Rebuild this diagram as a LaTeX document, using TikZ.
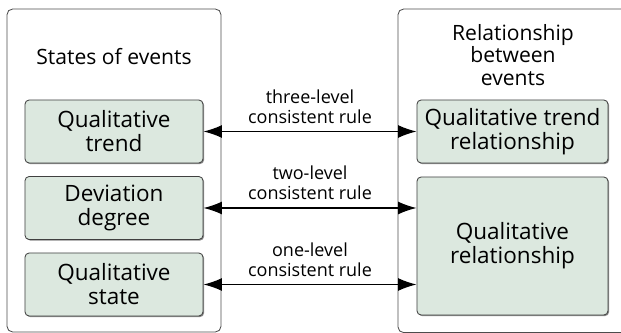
\documentclass[tikz,border=0pt]{standalone}
\usepackage{fontspec}
\setmainfont{Open Sans}
\usetikzlibrary{arrows.meta, positioning, shadows}
\definecolor{itemfill}{HTML}{DCE8DF}
\tikzset{
	group/.style={draw=black!70, line width=0.6pt, rounded corners=4pt},
	title/.style={align=center, font=\fontsize{15}{16}\selectfont},
	item/.style={draw=black!75, fill=itemfill, line width=0.6pt, rounded corners=3pt,
		inner sep=0pt, align=center, font=\fontsize{16}{17}\selectfont,
		drop shadow={shadow xshift=0.8pt, shadow yshift=-0.8pt, opacity=0.45, fill=black}},
	leftitem/.style={item, minimum width=4.45cm, minimum height=1.575cm},
	rightitem/.style={item, minimum width=4.775cm},
	rulelabel/.style={align=center, font=\fontsize{12.8}{14}\selectfont},
	rulearrow/.style={<->, >={Latex[length=4.6mm, width=3.2mm]}, line width=0.9pt},
}

\begin{document}
\begin{tikzpicture}[x=0.025cm, y=-0.025cm]
	\useasboundingbox (0,0) rectangle (621,333);
	% outer groups
	\draw[group] (7,9) rectangle (221,332);
	\draw[group] (398,9) rectangle (640,332.6);
	\node[title] (states) at (114,57) {States of events};
	\node[title] (relations) at (513,55) {Relationship\\between\\events};
	% states of events
	\node[leftitem] (trend) at (114,131.5) {Qualitative\\trend};
	\node[leftitem] (degree) at (114,208) {Deviation\\degree};
	\node[leftitem] (state) at (114,284.5) {Qualitative\\state};
	% relationships
	\node[rightitem, minimum height=1.575cm] (trendrel) at (512.5,131.5) {Qualitative trend\\relationship};
	\node[rightitem, minimum height=3.45cm] (qualrel) at (512.5,246) {Qualitative\\relationship};
	% consistent rules
	\draw[rulearrow] (trend.east) -- (trend.east -| trendrel.west);
	\draw[rulearrow] (degree.east) -- (degree.east -| qualrel.west);
	\draw[rulearrow] (state.east) -- (state.east -| qualrel.west);
	\node[rulelabel] (three) at (310,107) {three-level\\consistent rule};
	\node[rulelabel] (two) at (310,182.5) {two-level\\consistent rule};
	\node[rulelabel] (one) at (310,260) {one-level\\consistent rule};
\end{tikzpicture}
\end{document}
